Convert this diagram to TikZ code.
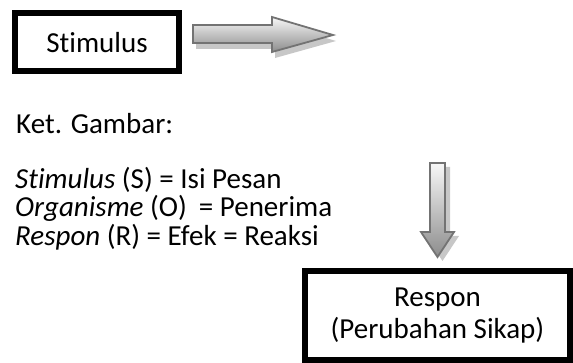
\documentclass[tikz,border=0pt]{standalone}
\usepackage{fontspec}
\setmainfont{Carlito}[Ligatures=NoCommon]
\usetikzlibrary{positioning}
\begin{document}
\begin{tikzpicture}[x=1pt, y=-1pt, line join=miter]
	\tikzset{every node/.style={font=\fontsize{29}{32}\selectfont, inner sep=0pt},
		framebox/.style={draw=black, line width=6pt},
		blockarrow/.style={draw=black!55, line width=1.8pt, top color=black!3, bottom color=black!45},
		arrowshadow/.style={fill=black!22, draw=none}}
	\useasboundingbox (0,0) rectangle (573,363);
	% boxes
	\node[framebox, minimum width=164pt, minimum height=58pt] (stim) at (97,42.5) {Stimulus};
	\node[framebox, minimum width=265pt, minimum height=89pt, align=center] (resp) at (437.5,315.5) {Respon\\(Perubahan Sikap)};
	% keterangan
	\node[anchor=base west] (ket) at (16,134) {Ket. Gambar:};
	\node[anchor=base west] (ls) at (15,189) {\textit{Stimulus} (S) = Isi Pesan};
	\node[anchor=base west] (lo) at (15,217) {\textit{Organisme} (O)\hspace{12pt}= Penerima};
	\node[anchor=base west] (lr) at (15,246) {\textit{Respon} (R) = Efek = Reaksi};
	% right arrow
	\fill[arrowshadow, shift={(3,6)}] (193,25)--(272,25)--(272,17)--(333,35)--(272,52)--(272,43)--(193,43)--cycle;
	\draw[blockarrow] (193,25)--(272,25)--(272,17)--(333,35)--(272,52)--(272,43)--(193,43)--cycle;
	% down arrow
	\fill[arrowshadow, shift={(5,4)}] (430,163)--(445,163)--(445,232)--(454,232)--(437.5,257)--(421,232)--(430,232)--cycle;
	\draw[blockarrow] (430,163)--(445,163)--(445,232)--(454,232)--(437.5,257)--(421,232)--(430,232)--cycle;
\end{tikzpicture}
\end{document}
